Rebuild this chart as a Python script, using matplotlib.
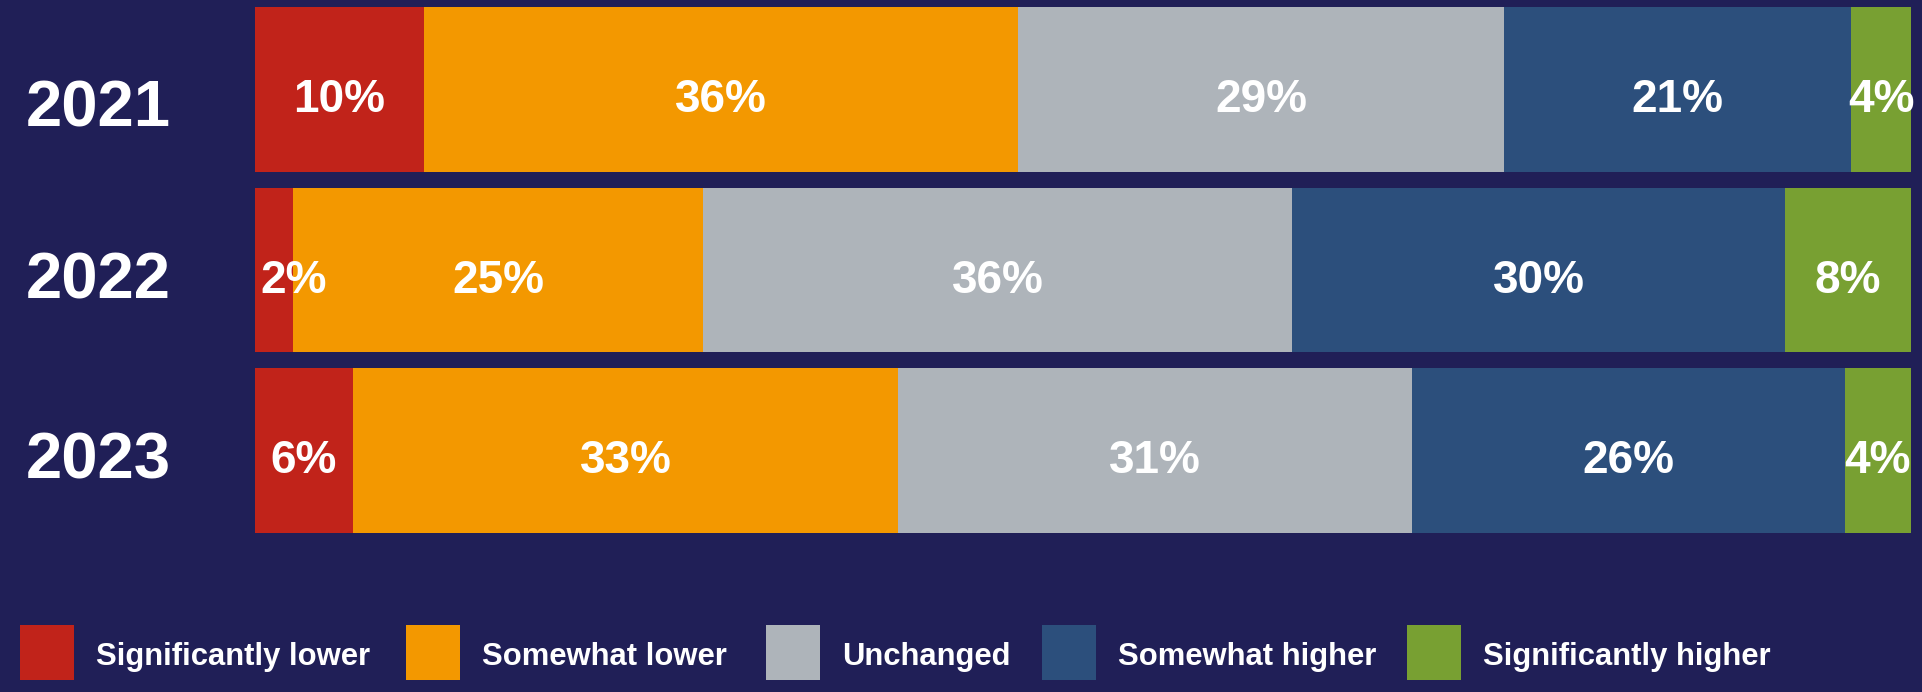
import matplotlib
matplotlib.use("Agg")
import matplotlib.pyplot as plt
import matplotlib.transforms as mtransforms
from matplotlib.patches import Rectangle
import numpy as np

years = ["2021", "2022", "2023"]
categories = ["Significantly lower", "Somewhat lower", "Unchanged",
              "Somewhat higher", "Significantly higher"]
# shares (%); labels show rounded values
sig_lower = [10.2, 2.3, 5.9]
some_lower = [35.9, 24.8, 32.9]
unchanged = [29.3, 35.6, 31.0]
some_higher = [21.0, 29.8, 26.1]
sig_higher = [3.6, 7.6, 4.0]

colors = ["#C1231A", "#F39800", "#AEB4BA", "#2C4F7C", "#78A032"]
bg = "#201F57"

plt.rcParams['font.family'] = ['Liberation Sans', 'DejaVu Sans']

W, H = 1922, 692
fig = plt.figure(figsize=(W / 100, H / 100), dpi=100, facecolor=bg)
ax = fig.add_axes([255 / W, 1 - 533 / H, (1911 - 255) / W, (533 - 7) / H])
ax.set_facecolor(bg)

series = [sig_lower, some_lower, unchanged, some_higher, sig_higher]
data = np.array(series, dtype=float)  # shape (5, 3)
totals = data.sum(axis=0)
shares = data / totals * 100

h = 0.914
y = np.arange(len(years))
left = np.zeros(len(years))
for i, (cat, col) in enumerate(zip(categories, colors)):
    ax.barh(y, shares[i], left=left, height=h, color=col, edgecolor='none')
    for j in range(len(years)):
        cx = left[j] + shares[i][j] / 2
        ha = 'center'
        if cx < 2.5:
            cx = 0.3
            ha = 'left'
        ax.text(cx, y[j] + 0.06, f"{series[i][j]:.0f}%", ha=ha, va='center',
                color='white', fontsize=33, fontweight='bold')
    left += shares[i]

ax.set_xlim(0, 100)
ax.set_ylim(2 + h / 2, -h / 2)
ax.axis('off')

trans = mtransforms.blended_transform_factory(fig.transFigure, ax.transData)
year_off = [0.11, 0.065, 0.06]
for j, yr in enumerate(years):
    ax.text(26 / W, y[j] + year_off[j], yr, transform=trans, ha='left', va='center',
            color='white', fontsize=47, fontweight='bold')

# legend
sq_x = [20, 406, 766, 1042, 1407]
for xpx, cat, col in zip(sq_x, categories, colors):
    fig.patches.append(Rectangle((xpx / W, 1 - 680 / H), 54 / W, 55 / H,
                                 transform=fig.transFigure, facecolor=col,
                                 edgecolor='none'))
    fig.text((xpx + 76) / W, 1 - 657 / H, cat, ha='left', va='center',
             color='white', fontsize=22.3, fontweight='bold')

fig.savefig("out.png", dpi=100, facecolor=bg)
